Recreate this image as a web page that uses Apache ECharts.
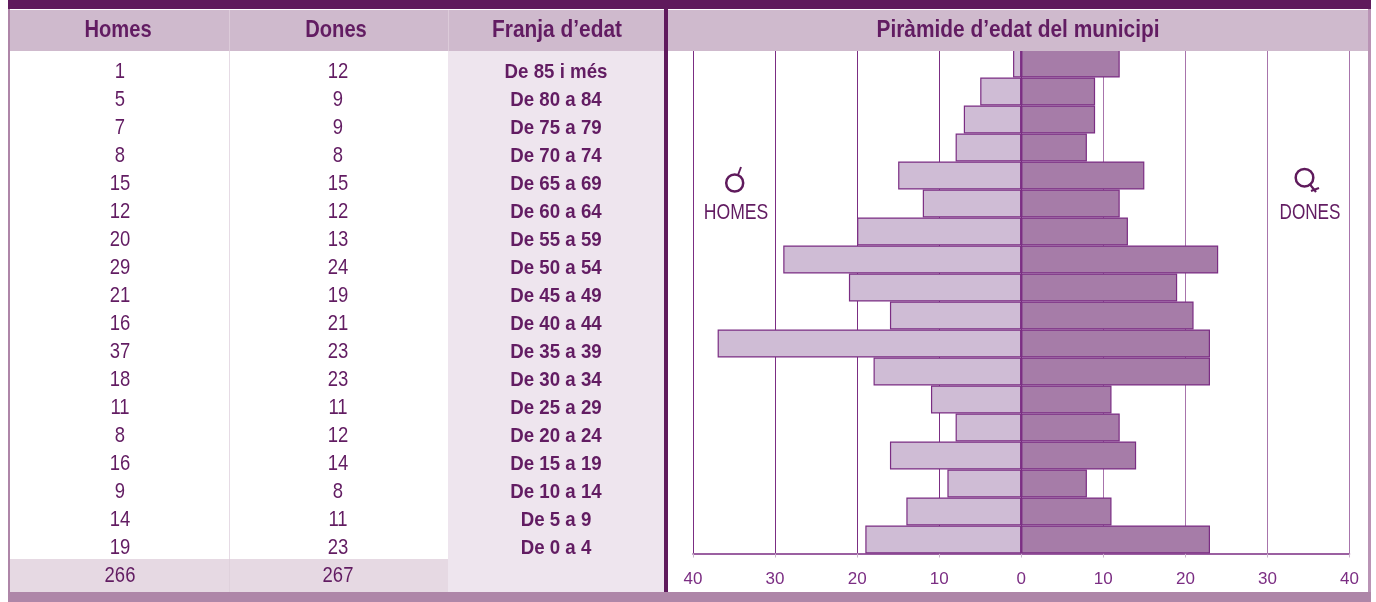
<!DOCTYPE html>
<html><head><meta charset="utf-8">
<style>html,body{margin:0;padding:0;background:#fff}#c{width:1376px;height:602px}</style>
<script src="https://cdn.jsdelivr.net/npm/echarts@6/dist/echarts.min.js"></script>
</head><body><div id="c"></div>
<script>
const ageGroups=['De 85 i més','De 80 a 84','De 75 a 79','De 70 a 74','De 65 a 69','De 60 a 64','De 55 a 59','De 50 a 54','De 45 a 49','De 40 a 44','De 35 a 39','De 30 a 34','De 25 a 29','De 20 a 24','De 15 a 19','De 10 a 14','De 5 a 9','De 0 a 4'];
const homes=[1,5,7,8,15,12,20,29,21,16,37,18,11,8,16,9,14,19];
const dones=[12,9,9,8,15,12,13,24,19,21,23,23,11,12,14,8,11,23];
const totalHomes=266, totalDones=267;
const headers=['Homes','Dones','Franja d’edat','Piràmide d’edat del municipi'];
const tableRows=ageGroups.concat(['Total']);
const DARK='#5f1a5c',TXT='#621c62',MID='#ae86a8',HEAD='#cfbacd',LINE='#7b2d83';
const FONT='"Liberation Sans",sans-serif';
const chart=echarts.init(document.getElementById('c'),null,{renderer:'canvas'});
const rect=(x,y,w,h,fill,z)=>({type:'rect',silent:true,z:z,shape:{x,y,width:w,height:h},style:{fill}});
const txt=(x,y,t,size,w,sx)=>({type:'text',silent:true,z:100,x,y,scaleX:sx,style:{text:String(t),fill:TXT,font:`${w} ${size}px ${FONT}`,textAlign:'center',textVerticalAlign:'middle'}});
const option={
 animation:false,backgroundColor:'#fff',
 grid:[{left:693,top:49.5,width:656.5,height:504},{left:664,top:57.8,width:1,height:532}],
 xAxis:[{type:'value',gridIndex:0,min:-40,max:40,interval:10,
   axisLine:{show:true,onZero:false,lineStyle:{color:LINE,width:1.5}},
   axisTick:{show:true,length:4,lineStyle:{color:'#c9b3cb'}},
   axisLabel:{margin:17,color:LINE,fontFamily:FONT,fontSize:17,formatter:v=>Math.abs(v)},
   splitLine:{show:true,lineStyle:{color:[LINE,LINE,LINE,LINE,LINE,'#a874ac','#a874ac','#a874ac','#a874ac'],width:1}}},
  {type:'value',gridIndex:1,show:false}],
 yAxis:[{type:'category',gridIndex:0,inverse:true,data:ageGroups,axisLine:{show:false},axisTick:{show:false},axisLabel:{show:false},splitLine:{show:false}},
  {type:'category',gridIndex:1,inverse:true,data:tableRows,show:false}],
 series:[
  {name:'Homes',type:'bar',stack:'p',xAxisIndex:0,yAxisIndex:0,barWidth:'100%',data:homes.map(v=>-v),itemStyle:{color:'#cfbcd5',borderColor:LINE,borderWidth:1.2}},
  {name:'Dones',type:'bar',stack:'p',xAxisIndex:0,yAxisIndex:0,barWidth:'100%',data:dones,itemStyle:{color:'#a67ca8',borderColor:LINE,borderWidth:1.2}}
 ]
};
chart.setOption(option);
const rowY=i=>chart.convertToPixel({yAxisIndex:1},i);
const cells=[];
homes.concat([totalHomes]).forEach((v,i)=>cells.push(txt(120,rowY(i),v,22,'normal',0.84)));
dones.concat([totalDones]).forEach((v,i)=>cells.push(txt(338,rowY(i),v,22,'normal',0.84)));
ageGroups.forEach((v,i)=>cells.push(txt(556,rowY(i),v,21,'bold',0.89)));
chart.setOption({graphic:{elements:[
  rect(448,51,216,542,'#eee5ee',-1),
  rect(10,559,438,34,'#e6d9e3',-1),
  rect(229,51,1,508,'#e6dbe5',-1),
  rect(229,559,1,34,'#dfd1dc',-1),
  rect(8,9,2,585,MID,100),
  rect(1368,9,3,585,'#b994b5',100),
  rect(10,10,1358,41,HEAD,90),
  rect(229,10,1,41,'#dccbd9',95),
  rect(448,10,1,41,'#dccbd9',95),
  rect(8,0,1363,9,DARK,100),
  rect(8,592,1363,10,MID,100),
  rect(664,9,4,583,DARK,100),
  txt(118,30.5,headers[0],24,'bold',0.84),
  txt(336,30.5,headers[1],24,'bold',0.84),
  txt(557,30.5,headers[2],24,'bold',0.87),
  txt(1018,30.5,headers[3],24,'bold',0.87),
  {type:'circle',silent:true,z:100,shape:{cx:734.7,cy:183,r:8.5},style:{fill:'none',stroke:DARK,lineWidth:2.5}},
  {type:'line',silent:true,z:100,shape:{x1:738,y1:175,x2:741,y2:167},style:{stroke:DARK,lineWidth:2}},
  txt(736,213,'HOMES',22,'normal',0.8),
  {type:'circle',silent:true,z:100,shape:{cx:1304.5,cy:177.7,r:8.8},style:{fill:'none',stroke:DARK,lineWidth:2.5}},
  {type:'line',silent:true,z:100,shape:{x1:1310,y1:184.5,x2:1316,y2:192},style:{stroke:DARK,lineWidth:2.2}},
  {type:'line',silent:true,z:100,shape:{x1:1311,y1:191,x2:1319,y2:188},style:{stroke:DARK,lineWidth:2.2}},
  txt(1310,213,'DONES',22,'normal',0.78)
 ].concat(cells)}});
</script></body></html>
